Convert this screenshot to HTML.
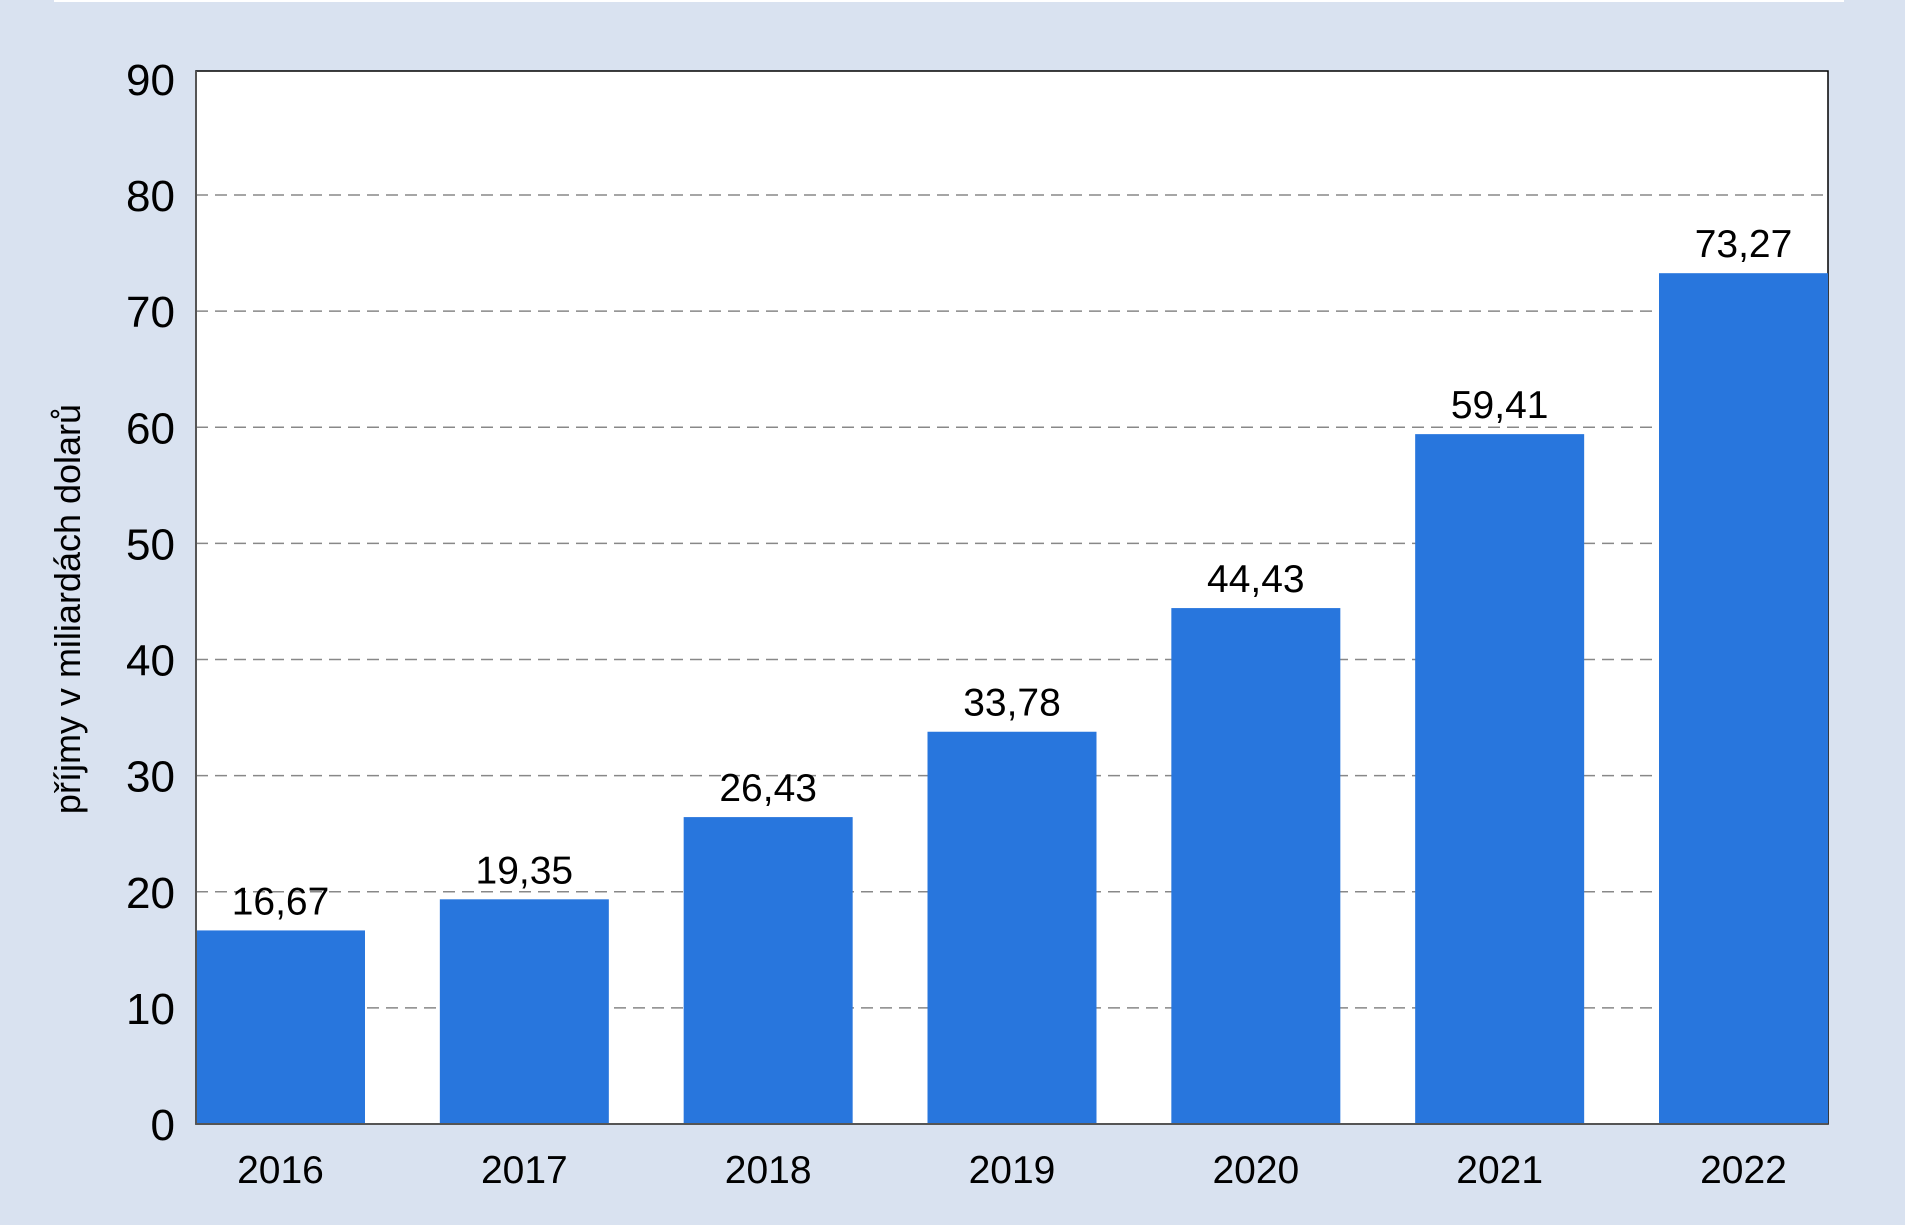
<!DOCTYPE html>
<html><head><meta charset="utf-8"><style>
html,body{margin:0;padding:0;background:#d9e2f0;}
svg{display:block;font-family:"Liberation Sans",Arial,sans-serif;}
</style></head><body>
<svg id="chart" width="1905" height="1225" viewBox="0 0 1905 1225" xmlns="http://www.w3.org/2000/svg">
<rect x="0" y="0" width="1905" height="1225" fill="#d9e2f0"/>
<rect x="54" y="0" width="1790" height="2" fill="#ffffff"/>
<rect x="196" y="71" width="1632" height="1053" fill="#ffffff" stroke="#000" stroke-width="1.5"/>
<g id="grid"></g>
<g id="bars"></g>
<g id="labels"></g>
<g id="yticks"></g>
<g id="xticks"></g>
<line x1="196" y1="1124" x2="1828" y2="1124" stroke="#555" stroke-width="2"/>
<line x1="196" y1="71" x2="196" y2="1124" stroke="#555" stroke-width="2"/>
<text transform="translate(80,609) rotate(-90)" text-anchor="middle" font-size="36" fill="#000">příjmy v miliardách dolarů</text>
</svg>
<script>
const categories = ["2016","2017","2018","2019","2020","2021","2022"];
const values = [16.67,19.35,26.43,33.78,44.43,59.41,73.27];
const valueLabels = ["16,67","19,35","26,43","33,78","44,43","59,41","73,27"];
const yTicks = [0,10,20,30,40,50,60,70,80,90];
const NS="http://www.w3.org/2000/svg";
const plotL=196, plotR=1828, y0=1124, unit=11.612;
const step=(plotR-plotL)/categories.length, barW=169;
function yScale(v){return y0-v*unit;}
function xScale(i){return plotL+i*(plotR-plotL-barW)/(categories.length-1);}
function mk(tag,attrs,parent){const e=document.createElementNS(NS,tag);for(const k in attrs)e.setAttribute(k,attrs[k]);parent.appendChild(e);return e;}
const grid=document.getElementById('grid'),bars=document.getElementById('bars'),labels=document.getElementById('labels'),yt=document.getElementById('yticks'),xt=document.getElementById('xticks');
yTicks.forEach(t=>{
  const y=yScale(t);
  if(t>0&&t<90){
    const l=mk('line',{x1:plotL,y1:y,x2:plotR,y2:y,stroke:'#888','stroke-width':1.5,'stroke-dasharray':'12,7'},grid);
    
    
  }
  const tx=mk('text',{x:175,y:y+16,'text-anchor':'end','font-size':44,fill:'#000'},yt);
  tx.textContent=t;
  
  
});
categories.forEach((c,i)=>{
  const x=xScale(i),y=yScale(values[i]);
  const r=mk('rect',{x:x,y:y,width:barW,height:y0-y,fill:'#2876dd'},bars);
  
  
  const v=mk('text',{x:x+barW/2,y:y-16,'text-anchor':'middle','font-size':39,fill:'#000'},labels);
  v.textContent=valueLabels[i];
  
  
  const xl=mk('text',{x:x+barW/2,y:1183,'text-anchor':'middle','font-size':39,fill:'#000'},xt);
  xl.textContent=c;
  
  
});
</script>
</body></html>
